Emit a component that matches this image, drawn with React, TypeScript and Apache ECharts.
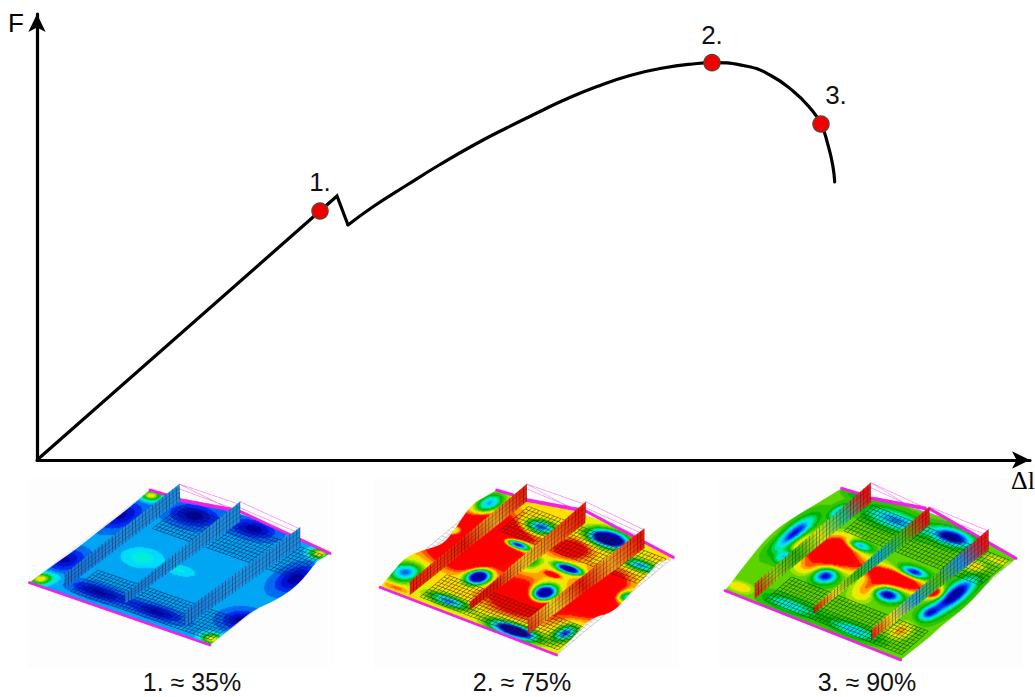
import React, { useEffect, useRef } from "react";
import * as echarts from "echarts";

// ---- chart data (x = elongation, y = force, arbitrary units)
const elasticBranch: number[][] = [[0, 0], [283, 249], [300, 264], [311, 235]];
const plasticBranch: number[][] = [
  [311, 235], [336, 253.3], [370, 275], [403, 295.5], [436, 314.5], [470, 332.3], [503, 348.5],
  [526, 359.5], [560, 373.5], [593, 384.5], [626, 392], [660, 396.5], [675, 397.3], [710, 393.7],
  [733, 385], [756, 369], [773, 352], [784, 336], [791, 315], [795.7, 295], [797.7, 278],
];
const markerX = [283, 675, 784];
const markerY = [249, 397.3, 336];
const markerLabels = ["1.", "2.", "3."];
const captions = ["1. ≈ 35%", "2. ≈ 75%", "3. ≈ 90%"];
const axisNames = { x: "Δl", y: "F" };

// ---- the three contour thumbnails: a picture painted on a canvas
type Pt = [number, number];
type Blob = [number, number, number, number, number]; // x, y, radius along plate width, radius along plate depth, amount
type Rib = { base: [Pt, Pt]; top: [Pt, Pt]; colors: string[] };
type Plate = {
  tileX: number;
  corners: { left: Pt; top: Pt; right: Pt; bottom: Pt };
  upperLeftEdge: Pt[];
  topEdge: Pt[];
  lowerRightEdge: Pt[];
  base: number;
  blobs: Blob[];
  ribs: Rib[];
  hatch: string;
  gray: number;
};

const plates: Plate[] = [
  {
    tileX: 20,
    corners: { left: [28, 338], top: [390, 60], right: [930, 250], bottom: [570, 525] },
    upperLeftEdge: [[100, 285], [165, 240], [240, 180], [300, 135], [355, 90]],
    topEdge: [[480, 88], [640, 120], [840, 205]],
    lowerRightEdge: [[890, 275], [835, 345], [770, 390], [700, 420], [640, 470]],
    base: 0.215,
    blobs: [
      [300, 135, 48, 60, -0.2], [520, 135, 65, 40, -0.22], [700, 175, 60, 32, -0.22], [825, 325, 42, 58, -0.22],
      [665, 450, 50, 38, -0.22], [410, 425, 75, 22, -0.2], [235, 365, 80, 24, -0.2], [135, 268, 45, 45, -0.2],
      [365, 262, 52, 36, 0.13], [480, 300, 42, 20, 0.1], [60, 325, 26, 22, 0.56], [392, 75, 26, 20, 0.56],
      [897, 250, 28, 20, 0.56], [575, 505, 30, 20, 0.56], [100, 320, 30, 20, 0.08],
    ],
    ribs: [
      { base: [[135, 355], [480, 92]], top: [[135, 310], [478, 42]], colors: ["#1a6fd8", "#1f8ade", "#1f8ade"] },
      { base: [[315, 400], [660, 155]], top: [[315, 370], [660, 95]], colors: ["#1a7ad8", "#1f94e4", "#1f8ade"] },
      { base: [[495, 470], [840, 228]], top: [[495, 420], [840, 172]], colors: ["#1a7ad8", "#1f94e4", "#1f8ade"] },
    ],
    hatch: "rgba(0,20,70,0.8)",
    gray: 0.2,
  },
  {
    tileX: 365,
    corners: { left: [45, 352], top: [395, 60], right: [925, 262], bottom: [575, 555] },
    upperLeftEdge: [[80, 310], [120, 262], [175, 240], [230, 225], [262, 190], [320, 100], [370, 78]],
    topEdge: [[490, 90], [660, 130], [840, 210]],
    lowerRightEdge: [[880, 278], [800, 365], [745, 428], [680, 442], [625, 500]],
    base: 0.76,
    blobs: [
      [350, 205, 125, 90, 0.62], [290, 270, 90, 35, 0.3], [370, 165, 55, 45, 0.2],
      [340, 318, 30, 30, -1.25], [455, 222, 40, 14, -1.05], [525, 170, 46, 24, -0.7], [250, 392, 60, 18, -0.6],
      [480, 385, 100, 60, 0.5], [620, 235, 50, 35, 0.35], [715, 335, 55, 50, 0.45], [535, 368, 32, 32, -1.35],
      [610, 295, 40, 14, -1.05], [560, 312, 20, 8, 0.5], [730, 205, 56, 28, -1.2], [445, 480, 70, 22, -1.05],
      [500, 275, 25, 30, -0.35], [690, 395, 65, 60, 0.45], [600, 488, 26, 34, -0.65], [825, 285, 48, 18, -0.55],
      [780, 378, 22, 22, -0.5], [120, 305, 40, 36, -0.6], [370, 100, 32, 44, -0.6], [270, 180, 26, 22, -0.45],
      [90, 350, 40, 10, 0.15],
    ],
    ribs: [
      { base: [[135, 375], [485, 95]], top: [[135, 335], [485, 42]], colors: ["#f01808", "#f83808", "#f01808", "#e8a020", "#f02010"] },
      { base: [[315, 420], [660, 160]], top: [[315, 395], [662, 95]], colors: ["#f01808", "#f01808", "#f0c020", "#f07010", "#f01808"] },
      { base: [[490, 490], [838, 235]], top: [[490, 445], [838, 175]], colors: ["#f02010", "#f0d020", "#f01808", "#f0a020", "#f01808"] },
    ],
    hatch: "rgba(60,30,0,0.85)",
    gray: 0.45,
  },
  {
    tileX: 710,
    corners: { left: [45, 362], top: [395, 55], right: [918, 265], bottom: [572, 570] },
    upperLeftEdge: [[100, 290], [180, 190], [270, 130], [340, 90]],
    topEdge: [[480, 85], [660, 125], [835, 205]],
    lowerRightEdge: [[850, 320], [770, 410], [690, 470], [630, 530]],
    base: 0.6,
    blobs: [
      [250, 190, 24, 68, -0.62], [222, 258, 20, 26, -0.38], [385, 125, 18, 28, -0.4],
      [355, 250, 95, 46, 0.6], [400, 215, 50, 30, 0.3], [290, 290, 40, 30, 0.2],
      [345, 315, 30, 28, -0.62], [445, 225, 36, 16, -0.55], [555, 150, 86, 30, -0.42], [725, 200, 56, 26, -0.7],
      [555, 325, 90, 28, 0.6], [480, 350, 36, 50, 0.32], [530, 372, 38, 22, -0.68], [610, 305, 38, 16, -0.6],
      [730, 375, 28, 72, -0.72], [655, 428, 22, 28, -0.42], [670, 365, 28, 24, 0.42], [570, 480, 28, 32, 0.25],
      [795, 290, 30, 20, 0.22], [240, 405, 80, 22, -0.3], [430, 480, 70, 20, -0.35], [90, 350, 42, 18, 0.2],
      [860, 270, 42, 14, 0.16], [430, 75, 30, 12, -0.1],
    ],
    ribs: [
      { base: [[135, 385], [482, 98]], top: [[135, 340], [482, 38]], colors: ["#e81010", "#90d010", "#30b010", "#d0e010", "#20c080", "#e81818"] },
      { base: [[312, 430], [658, 165]], top: [[312, 410], [658, 110]], colors: ["#e81010", "#f0e020", "#30c010", "#10b0c0", "#40c010", "#e81818"] },
      { base: [[485, 510], [835, 240]], top: [[485, 478], [835, 178]], colors: ["#e81010", "#f0e020", "#20a0d0", "#50c010", "#2090e0", "#e81818"] },
    ],
    hatch: "rgba(0,40,0,0.8)",
    gray: 0.45,
  },
];

const scale: number[][] = [
  [0, 0, 0, 168], [0.1, 0, 32, 240], [0.2, 0, 144, 240], [0.3, 0, 240, 255], [0.4, 0, 232, 144], [0.5, 0, 180, 0],
  [0.6, 80, 208, 0], [0.7, 200, 232, 0], [0.75, 255, 255, 0], [0.85, 255, 144, 0], [0.95, 255, 0, 0], [1, 255, 0, 0],
];

function colorAt(v: number): number[] {
  const q = Math.round(Math.min(1, Math.max(0, v)) * 18) / 18;
  for (let i = 1; i < scale.length; i++) {
    const a = scale[i - 1];
    const b = scale[i];
    if (q <= b[0]) {
      const t = (q - a[0]) / (b[0] - a[0]);
      return [a[1] + (b[1] - a[1]) * t, a[2] + (b[2] - a[2]) * t, a[3] + (b[3] - a[3]) * t];
    }
  }
  return [255, 0, 0];
}

function paintPlate(p: Plate): string {
  const W = 960;
  const H = 660;
  const { left, top, right, bottom } = p.corners;
  const ux = bottom[0] - left[0], uy = bottom[1] - left[1];
  const vx = top[0] - left[0], vy = top[1] - left[1];
  const ul = Math.hypot(ux, uy), vl = Math.hypot(vx, vy);
  const e1x = ux / ul, e1y = uy / ul, e2x = vx / vl, e2y = vy / vl;
  const det = e1x * e2y - e1y * e2x;

  // contour field on a coarse raster, enlarged for the soft look of the original
  const fw = 320, fh = 220;
  const field = document.createElement("canvas");
  field.width = fw;
  field.height = fh;
  const fc = field.getContext("2d")!;
  const img = fc.createImageData(fw, fh);
  for (let j = 0; j < fh; j++) {
    for (let i = 0; i < fw; i++) {
      const x = i * 3, y = j * 3;
      let f = p.base;
      for (const [bx, by, ra, rb, amp] of p.blobs) {
        const dx = x - bx, dy = y - by;
        const s = (dx * e2y - dy * e2x) / det / ra;
        const t = (e1x * dy - e1y * dx) / det / rb;
        const r = s * s + t * t;
        if (r < 9) f += amp * Math.exp(-r);
      }
      const c = colorAt(f);
      const k = (j * fw + i) * 4;
      img.data[k] = c[0];
      img.data[k + 1] = c[1];
      img.data[k + 2] = c[2];
      img.data[k + 3] = 255;
    }
  }
  fc.putImageData(img, 0, 0);

  const cv = document.createElement("canvas");
  cv.width = W;
  cv.height = H;
  const g = cv.getContext("2d")!;
  g.fillStyle = "#fdfdfd";
  g.fillRect(25, 25, 915, 565);

  const at = (u: number, v: number): Pt => {
    const ax = left[0] + (bottom[0] - left[0]) * u, ay = left[1] + (bottom[1] - left[1]) * u;
    const bx = top[0] + (right[0] - top[0]) * u, by = top[1] + (right[1] - top[1]) * u;
    return [ax + (bx - ax) * v, ay + (by - ay) * v];
  };
  const seg = (a: Pt, b: Pt) => {
    g.beginPath();
    g.moveTo(a[0], a[1]);
    g.lineTo(b[0], b[1]);
    g.stroke();
  };

  // undeformed grey mesh that shows beside the bent edges
  g.strokeStyle = `rgba(70,70,70,${p.gray})`;
  g.lineWidth = 1.2;
  for (let i = 0; i <= 44; i++) seg(at(i / 44, 0), at(i / 44, 1));
  for (let i = 0; i <= 34; i++) seg(at(0, i / 34), at(1, i / 34));

  // plate surface
  const outline: Pt[] = [left, ...p.upperLeftEdge, top, ...p.topEdge, right, ...p.lowerRightEdge, bottom];
  g.save();
  g.beginPath();
  g.moveTo(outline[0][0], outline[0][1]);
  for (let i = 1; i < outline.length; i++) {
    const a = outline[i - 1], b = outline[i];
    const corner = b === top || b === right || b === bottom || a === top || a === right;
    if (corner) g.lineTo(b[0], b[1]);
    else g.quadraticCurveTo(a[0], a[1], (a[0] + b[0]) / 2, (a[1] + b[1]) / 2);
  }
  g.closePath();
  g.clip();
  g.imageSmoothingEnabled = true;
  g.imageSmoothingQuality = "high";
  g.drawImage(field, 0, 0, W, H);

  // element mesh in the strips at both ends of the ribs
  g.strokeStyle = p.hatch;
  g.lineWidth = 1.5;
  const u0 = 0.2, u1 = 0.98;
  for (const [v0, v1] of [[0.04, 0.27], [0.72, 0.97]]) {
    for (let i = 0; i <= 9; i++) {
      const v = v0 + ((v1 - v0) * i) / 9;
      seg(at(u0, v), at(u1, v));
    }
    for (let i = 0; i <= 38; i++) {
      const u = u0 + ((u1 - u0) * i) / 38;
      seg(at(u, v0), at(u, v1));
    }
  }
  g.restore();

  // magenta supports along the two long edges
  g.strokeStyle = "#f020e8";
  g.lineCap = "round";
  g.lineWidth = 8;
  seg(left, at(0.33, 0));
  seg(at(0.33, 0), bottom);
  g.lineWidth = 11;
  seg([top[0] + 90, top[1] + 30], [top[0] + 250, top[1] + 60]);
  g.lineWidth = 9;
  seg([top[0] + 265, top[1] + 62], right);
  seg(top, [top[0] + 50, top[1] + 15]);

  // thin guide lines running from the rib tops
  g.strokeStyle = "rgba(240,60,230,0.8)";
  g.lineWidth = 1.4;
  const [a, b, c] = p.ribs;
  seg(a.top[1], [b.base[1][0] - 15, b.base[1][1] - 30]);
  seg(a.top[1], [b.top[1][0] - 2, b.top[1][1] + 8]);
  seg([a.top[1][0], a.top[1][1] + 15], [b.base[1][0], b.base[1][1] - 32]);
  seg(b.top[1], [c.top[1][0] - 2, c.top[1][1] + 4]);
  seg([b.top[1][0], b.top[1][1] + 18], [c.top[1][0] - 2, c.top[1][1] + 18]);
  seg([b.top[1][0], b.top[1][1] + 32], [c.top[1][0] - 2, c.top[1][1] + 30]);

  // ribs standing on the plate
  for (const r of p.ribs) {
    const grad = g.createLinearGradient(r.base[0][0], r.base[0][1], r.base[1][0], r.base[1][1]);
    r.colors.forEach((col, i) => grad.addColorStop(i / (r.colors.length - 1), col));
    g.fillStyle = grad;
    g.beginPath();
    g.moveTo(r.base[0][0], r.base[0][1]);
    g.lineTo(r.top[0][0], r.top[0][1]);
    g.lineTo(r.top[1][0], r.top[1][1]);
    g.lineTo(r.base[1][0], r.base[1][1]);
    g.closePath();
    g.fill();
    g.strokeStyle = "rgba(0,0,0,0.6)";
    g.lineWidth = 1.4;
    const n = 34;
    for (let i = 0; i <= n; i++) {
      const t = i / n;
      seg(
        [r.base[0][0] + (r.base[1][0] - r.base[0][0]) * t, r.base[0][1] + (r.base[1][1] - r.base[0][1]) * t],
        [r.top[0][0] + (r.top[1][0] - r.top[0][0]) * t, r.top[0][1] + (r.top[1][1] - r.top[0][1]) * t],
      );
    }
    g.strokeStyle = "rgba(0,0,0,0.35)";
    for (let k = 1; k < 4; k++) {
      const t = k / 4;
      seg(
        [r.base[0][0] + (r.top[0][0] - r.base[0][0]) * t, r.base[0][1] + (r.top[0][1] - r.base[0][1]) * t],
        [r.base[1][0] + (r.top[1][0] - r.base[1][0]) * t, r.base[1][1] + (r.top[1][1] - r.base[1][1]) * t],
      );
    }
  }
  return cv.toDataURL("image/png");
}

const sans = '"Liberation Sans", Arial, sans-serif';
const serif = '"Liberation Serif", "Times New Roman", serif';
const labelOffsets = [[0, -2], [0, -1], [15, -2]];

export default function App() {
  const ref = useRef<HTMLDivElement>(null);
  useEffect(() => {
    document.body.style.margin = "0";
    const chart = echarts.init(ref.current!, null, { renderer: "svg" });
    const axisLine = {
      show: true,
      onZero: false,
      symbol: ["none", "arrow"],
      symbolSize: [13, 18],
      lineStyle: { color: "#000", width: 3.2 },
    };
    chart.setOption({
      animation: false,
      backgroundColor: "#fff",
      grid: { left: 37, right: 5, top: 14, bottom: 237, outerBoundsMode: "none" },
      xAxis: {
        type: "value",
        min: 0,
        max: 993,
        axisLine,
        axisTick: { show: false },
        axisLabel: { show: false },
        splitLine: { show: false },
        name: axisNames.x,
        nameLocation: "end",
        nameGap: -7,
        nameTextStyle: { fontFamily: serif, fontSize: 26, color: "#000", verticalAlign: "top", align: "center", padding: [7, 0, 0, 0] },
      },
      yAxis: {
        type: "value",
        min: 0,
        max: 446,
        axisLine,
        axisTick: { show: false },
        axisLabel: { show: false },
        splitLine: { show: false },
        name: axisNames.y,
        nameLocation: "end",
        nameGap: -9,
        nameTextStyle: { fontFamily: sans, fontSize: 26, color: "#000", align: "right", verticalAlign: "middle", padding: [0, 13, 0, 0] },
      },
      series: [
        {
          type: "line",
          data: elasticBranch,
          symbol: "none",
          lineStyle: { color: "#000", width: 3.2, join: "miter", cap: "butt" },
          z: 3,
        },
        {
          type: "line",
          data: plasticBranch,
          symbol: "none",
          smooth: 0.5,
          lineStyle: { color: "#000", width: 3.2, cap: "round" },
          z: 3,
        },
        {
          type: "scatter",
          symbol: "circle",
          symbolSize: 16,
          itemStyle: { color: "#f00000", borderColor: "#7a3a30", borderWidth: 1.5, opacity: 1 },
          z: 5,
          data: markerX.map((x, i) => ({
            value: [x, markerY[i]],
            name: markerLabels[i],
            label: { offset: labelOffsets[i] },
          })),
          label: {
            show: true,
            position: "top",
            formatter: (d: any) => d.name,
            fontFamily: sans,
            fontSize: 26,
            color: "#111",
          },
        },
      ],
      graphic: [
        ...plates.map((p) => ({
          type: "image",
          x: p.tileX,
          y: 470,
          silent: true,
          style: { image: paintPlate(p), x: 0, y: 0, width: 320, height: 220 },
        })),
        ...captions.map((t, i) => ({
          type: "text",
          x: [192, 522, 867][i],
          y: 682,
          silent: true,
          style: {
            text: t,
            fontFamily: sans,
            fontSize: 25,
            fill: "#111",
            align: "center",
            verticalAlign: "middle",
          },
        })),
      ],
    });
    return () => chart.dispose();
  }, []);
  return <div ref={ref} style={{ position: "absolute", left: 0, top: 0, width: 1035, height: 697 }} />;
}
